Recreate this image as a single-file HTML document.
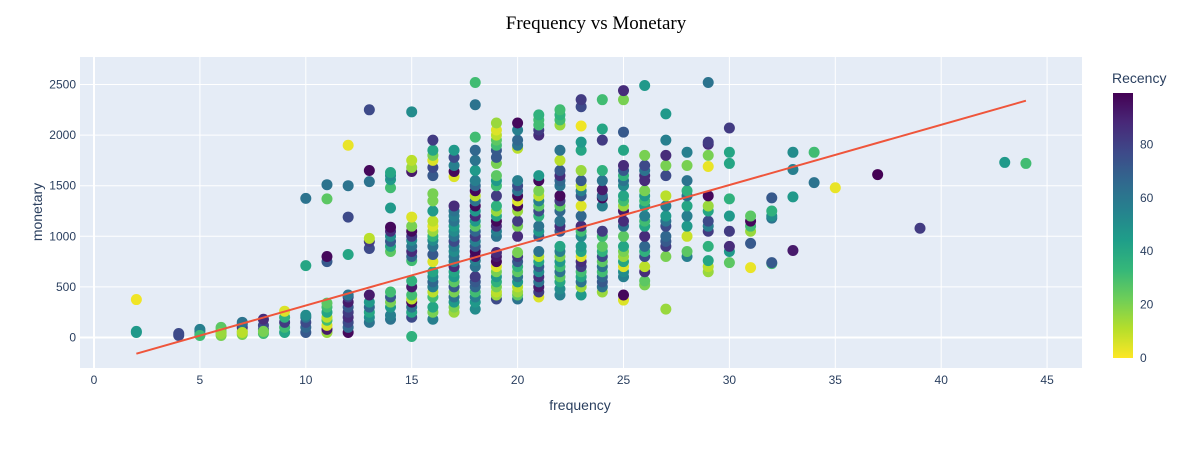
<!DOCTYPE html>
<html><head><meta charset="utf-8">
<style>
body{margin:0;background:#fff;}
svg text{font-family:"Liberation Sans",sans-serif;fill:#2a3f5f;}
</style></head>
<body>
<svg id="chart" width="1192" height="450" xmlns="http://www.w3.org/2000/svg">
<rect x="80" y="57" width="1002" height="311" fill="#e5ecf6"/>
<g id="grid"></g>
<g id="points"></g>
<g id="trend"></g>
<g id="axes"></g>
<text x="596" y="29" text-anchor="middle" style="font-family:'Liberation Serif',serif;font-size:19px;fill:#000">Frequency vs Monetary</text>
<text x="580" y="410" text-anchor="middle" font-size="14">frequency</text>
<text x="0" y="0" text-anchor="middle" font-size="14" transform="translate(42,212) rotate(-90)">monetary</text>
<text x="1112" y="83" font-size="14">Recency</text>
<defs><linearGradient id="vg" x1="0" y1="1" x2="0" y2="0">
<stop offset="0" stop-color="#fde725"/><stop offset="0.111" stop-color="#b5de2b"/><stop offset="0.222" stop-color="#6ece58"/><stop offset="0.333" stop-color="#35b779"/><stop offset="0.444" stop-color="#1f9e89"/><stop offset="0.556" stop-color="#26828e"/><stop offset="0.667" stop-color="#31688e"/><stop offset="0.778" stop-color="#3e4989"/><stop offset="0.889" stop-color="#482878"/><stop offset="1" stop-color="#440154"/>
</linearGradient></defs>
<rect x="1113" y="93" width="20" height="265" fill="url(#vg)"/>
<g id="cbticks"></g>
</svg>
<script>
const xTicks=[0,5,10,15,20,25,30,35,40,45];
const yTicks=[0,500,1000,1500,2000,2500];
const cbTicks=[0,20,40,60,80];
const trendX=[2,44];
const trendY=[-160,2340];
const columns=[
[2,[[50,45],[60,45],[375,2]]],
[4,[[20,75],[40,75]]],
[5,[[30,60],[60,55],[80,55],[20,30]]],
[6,[[20,20],[50,25],[80,20],[100,25],[40,15]]],
[7,[[30,20],[60,15],[100,85],[130,70],[150,60],[50,10]]],
[8,[[40,30],[80,70],[120,75],[180,85],[60,20]]],
[9,[[50,40],[100,30],[150,80],[200,35],[260,5]]],
[10,[[50,70],[100,65],[150,75],[200,60],[220,50],[710,40],[1375,60]]],
[11,[[50,15],[80,90],[120,5],[170,30],[200,10],[250,40],[300,30],[340,25],[750,70],[800,95],[1370,25],[1510,60]]],
[12,[[50,95],[100,65],[150,75],[200,85],[250,80],[300,70],[350,90],[400,80],[420,60],[820,40],[1190,75],[1500,60],[1900,3]]],
[13,[[150,60],[200,50],[250,40],[300,65],[350,45],[420,90],[880,75],[950,80],[980,10],[1540,60],[1650,95],[2250,75]]],
[14,[[180,60],[220,55],[300,45],[350,20],[400,70],[450,30],[850,25],[900,40],[950,70],[1000,50],[1050,85],[1090,95],[1280,45],[1480,30],[1560,45],[1600,50],[1630,40]]],
[15,[[10,35],[200,75],[250,40],[300,60],[350,95],[380,10],[420,30],[500,90],[560,35],[760,30],[800,65],[850,85],[900,60],[960,50],[1000,80],[1050,95],[1100,20],[1190,5],[1640,90],[1680,15],[1750,10],[2230,50]]],
[16,[[180,55],[250,20],[300,40],[400,30],[450,10],[500,55],[550,65],[600,50],[650,40],[750,5],[820,70],[900,60],[960,50],[1000,35],[1050,15],[1100,5],[1150,10],[1250,45],[1350,20],[1420,20],[1600,70],[1680,75],[1750,5],[1800,20],[1850,40],[1950,80]]],
[17,[[250,15],[300,20],[350,45],[400,60],[450,20],[500,70],[550,25],[600,45],[650,40],[700,85],[750,55],[800,60],[850,50],[900,55],[950,75],[1000,60],[1050,50],[1100,45],[1150,60],[1200,55],[1250,60],[1300,85],[1590,5],[1640,95],[1700,55],[1780,75],[1850,45]]],
[18,[[280,50],[350,45],[400,55],[450,30],[500,65],[550,70],[600,80],[700,60],[760,55],[800,90],[850,95],[900,70],[950,55],[1000,80],[1050,65],[1100,25],[1150,45],[1200,85],[1250,45],[1300,95],[1350,60],[1400,10],[1450,95],[1500,65],[1550,55],[1650,45],[1750,60],[1850,65],[1980,30],[2300,60],[2520,30]]],
[19,[[380,75],[420,15],[450,10],[500,20],[550,35],[600,45],[650,20],[700,5],[750,95],[800,90],[840,85],[1000,60],[1050,55],[1100,85],[1150,95],[1200,40],[1250,15],[1300,35],[1400,80],[1500,30],[1550,45],[1600,25],[1720,20],[1780,70],[1850,70],[1900,30],[1950,25],[2000,10],[2050,5],[2120,15]]],
[20,[[380,60],[420,25],[450,15],[500,10],[550,45],[600,60],[650,25],[700,35],[750,70],[800,80],[840,20],[1000,85],[1100,20],[1150,80],[1250,15],[1300,95],[1350,5],[1400,95],[1450,60],[1500,75],[1550,55],[1870,10],[1900,60],[1950,65],[2050,55],[2120,95]]],
[21,[[400,5],[450,80],[500,90],[550,60],[600,85],[650,50],[700,70],[750,40],[800,10],[850,60],[1000,70],[1050,45],[1100,60],[1200,35],[1250,75],[1300,25],[1350,55],[1400,10],[1450,20],[1550,95],[1600,45],[2000,85],[2050,80],[2100,30],[2150,30],[2200,35]]],
[22,[[420,55],[480,50],[550,40],[600,25],[650,60],[700,30],[750,45],[800,20],[850,55],[900,40],[1050,70],[1100,85],[1150,60],[1250,65],[1300,25],[1350,80],[1400,95],[1500,60],[1550,65],[1600,85],[1650,70],[1750,10],[1850,60],[2100,15],[2150,30],[2200,35],[2250,30]]],
[23,[[420,45],[500,15],[550,60],[600,40],[650,30],[700,80],[750,85],[800,5],[850,40],[900,45],[1000,50],[1050,30],[1100,85],[1200,65],[1300,5],[1400,70],[1450,55],[1500,10],[1550,70],[1650,15],[1850,40],[1930,45],[2090,2],[2280,75],[2350,80]]],
[24,[[450,15],[500,60],[550,70],[600,65],[650,30],[700,60],[750,25],[800,75],[850,35],[900,25],[1000,30],[1050,80],[1300,55],[1380,95],[1400,65],[1460,90],[1550,60],[1650,35],[1950,80],[2060,40],[2350,30]]],
[25,[[370,5],[420,95],[600,55],[650,50],[700,5],[750,40],[800,15],[850,20],[900,40],[1000,25],[1100,60],[1150,85],[1250,90],[1300,15],[1350,30],[1400,40],[1500,50],[1550,60],[1600,35],[1650,70],[1700,85],[1850,40],[2030,70],[2350,20],[2440,85]]],
[26,[[520,20],[560,25],[650,85],[700,10],[800,75],[850,35],[900,65],[1000,85],[1100,40],[1150,30],[1200,55],[1300,45],[1350,30],[1400,45],[1450,20],[1550,85],[1600,85],[1650,60],[1700,75],[1800,20],[2490,45]]],
[27,[[280,15],[800,20],[900,80],[950,70],[1000,65],[1100,75],[1150,60],[1200,45],[1300,55],[1400,10],[1600,75],[1700,20],[1800,85],[1950,55],[2210,45]]],
[28,[[800,55],[850,25],[1000,8],[1100,45],[1200,55],[1300,40],[1400,60],[1450,35],[1550,60],[1700,20],[1830,55]]],
[29,[[650,15],[700,10],[760,40],[900,35],[1050,80],[1100,55],[1150,75],[1250,40],[1300,15],[1400,95],[1690,3],[1800,20],[1910,85],[1930,80],[2520,60]]],
[30,[[740,25],[850,45],[900,85],[1050,80],[1200,45],[1370,35],[1720,40],[1830,40],[2070,80]]],
[31,[[690,3],[930,70],[1050,15],[1100,30],[1150,95],[1200,25]]],
[32,[[730,30],[740,70],[1180,60],[1200,50],[1250,35],[1380,70]]],
[33,[[860,90],[1390,45],[1660,55],[1830,50]]],
[34,[[1530,60],[1830,30]]],
[35,[[1480,3]]],
[37,[[1610,97]]],
[39,[[1080,80]]],
[43,[[1730,45]]],
[44,[[1720,30]]]
];
const NS="http://www.w3.org/2000/svg";
const sx=v=>94+v*21.18;
const sy=v=>337.5-v*0.1012;
const cy=v=>358-v*2.67;
const stops=["#440154","#482878","#3e4989","#31688e","#26828e","#1f9e89","#35b779","#6ece58","#b5de2b","#fde725"];
function hex(h){return [1,3,5].map(i=>parseInt(h.substr(i,2),16));}
function color(r){let t=1-Math.min(Math.max(r/97,0),1);let p=t*9,i=Math.min(Math.floor(p),8),f=p-i;
const a=hex(stops[i]),b=hex(stops[i+1]);return "rgb("+a.map((c,k)=>Math.round(c+(b[k]-c)*f)).join(",")+")";}
function mk(tag,attrs,parent){const e=document.createElementNS(NS,tag);for(const k in attrs)e.setAttribute(k,attrs[k]);parent.appendChild(e);return e;}
const grid=document.getElementById('grid'),axes=document.getElementById('axes');
xTicks.forEach(t=>{
const l=mk('line',{x1:sx(t),x2:sx(t),y1:57,y2:368,stroke:'#fff','stroke-width':t===0?2:1},grid);


const tx=mk('text',{x:sx(t),y:384,'text-anchor':'middle','font-size':12},axes);tx.textContent=t;


});
yTicks.forEach(t=>{
const l=mk('line',{x1:80,x2:1082,y1:sy(t),y2:sy(t),stroke:'#fff','stroke-width':t===0?2:1},grid);


const tx=mk('text',{x:76,y:sy(t)+4,'text-anchor':'end','font-size':12},axes);tx.textContent=t;


});
const pts=document.getElementById('points');
columns.forEach(([f,list])=>{list.forEach(([m,r])=>{
const c=mk('circle',{cx:sx(f),cy:sy(m),r:5.5,fill:color(r)},pts);


});});
const tl=mk('line',{x1:sx(trendX[0]),y1:sy(trendY[0]),x2:sx(trendX[1]),y2:sy(trendY[1]),stroke:'#ef553b','stroke-width':2},document.getElementById('trend'));


const cb=document.getElementById('cbticks');
cbTicks.forEach(t=>{
const tx=mk('text',{x:1140,y:cy(t)+4,'font-size':12},cb);tx.textContent=t;


});
</script>
</body></html>
